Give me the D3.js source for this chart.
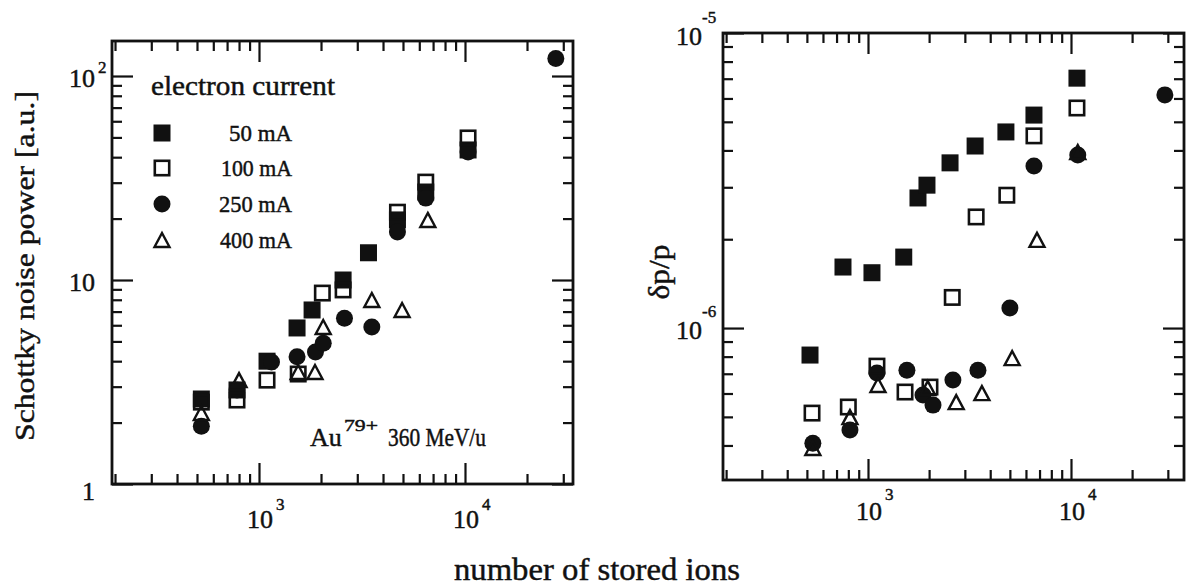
<!DOCTYPE html>
<html>
<head>
<meta charset="utf-8">
<script src="https://cdn.jsdelivr.net/npm/d3@7"></script>
<style>
  body { margin: 0; background: #fff; }
  text { font-family: "Liberation Serif", "DejaVu Serif", serif; fill: #111; stroke: #111; stroke-width: 0.45px; }
</style>
</head>
<body>
<svg id="chart" width="1192" height="587"></svg>
<script>
// ---- data -------------------------------------------------------------
const seriesNames = ["50 mA", "100 mA", "250 mA", "400 mA"];
const seriesSymbols = ["squareFilled", "squareOpen", "circleFilled", "triangleOpen"];

// Schottky noise power [a.u.] versus number of stored ions
const noiseIons50  = [525, 782, 1094, 1530, 1810, 2560, 3400, 4700, 6450, 10350];
const noise50      = [2.61, 2.89, 4.0, 5.82, 7.13, 10.0, 13.6, 19.7, 27.0, 43.4];
const noiseIons100 = [525, 782, 1094, 1550, 2030, 2560, 4700, 6450, 10350];
const noise100     = [2.52, 2.58, 3.23, 3.46, 8.63, 8.94, 21.5, 30.2, 49.7];
const noiseIons250 = [525, 782, 1150, 1530, 1880, 2050, 2600, 3530, 4700, 6450, 10350, 27600];
const noise250     = [1.92, 2.89, 3.96, 4.2, 4.44, 4.9, 6.5, 5.88, 17.2, 25.2, 42.4, 122];
const noiseIons400 = [525, 800, 1550, 1870, 2050, 3530, 4950, 6600];
const noise400     = [2.23, 3.23, 3.54, 3.54, 5.88, 7.98, 7.13, 19.7];

// momentum spread dp/p versus number of stored ions
const dppIons50  = [518, 753, 1046, 1500, 1763, 1952, 2536, 3370, 4780, 6570, 10700];
const dpp50      = [8.1e-7, 1.61e-6, 1.54e-6, 1.74e-6, 2.76e-6, 3.05e-6, 3.63e-6, 4.14e-6, 4.62e-6, 5.27e-6, 7.03e-6];
const dppIons100 = [530, 800, 1107, 1522, 2020, 2600, 3410, 4830, 6570, 10700];
const dpp100     = [5.15e-7, 5.4e-7, 7.43e-7, 6.07e-7, 6.31e-7, 1.27e-6, 2.38e-6, 2.82e-6, 4.48e-6, 5.57e-6];
const dppIons250 = [535, 815, 1107, 1555, 1866, 2090, 2620, 3480, 5000, 6570, 10800, 29000];
const dpp250     = [4.07e-7, 4.51e-7, 7.04e-7, 7.2e-7, 5.93e-7, 5.48e-7, 6.67e-7, 7.2e-7, 1.17e-6, 3.54e-6, 3.86e-6, 6.17e-6];
const dppIons400 = [535, 815, 1120, 1970, 2720, 3640, 5130, 6800, 10800];
const dpp400     = [3.92e-7, 4.99e-7, 6.41e-7, 6.26e-7, 5.61e-7, 6.02e-7, 7.91e-7, 1.99e-6, 3.95e-6];

// axis extents and labelled decades
const ionsExtentLeft  = [Math.pow(10, 2.2864), Math.pow(10, 4.5243)];
const ionsExtentRight = [Math.pow(10, 2.2857), Math.pow(10, 4.5567)];
const noiseExtent = [1, Math.pow(10, 2.1716)];
const dppExtent   = [Math.pow(10, -6.515), 1e-5];
const ionsTickExps  = [3, 4];
const noiseTickLabels = [
  { v: 1, base: "1", exp: "", dy: 16 },
  { v: 10, base: "10", exp: "", dy: 11 },
  { v: 100, base: "10", exp: "2", dy: 11 }
];
const dppTickLabels = [
  { v: 1e-6, base: "10", exp: "-6", dy: 11 },
  { v: 1e-5, base: "10", exp: "-5", dy: 12 }
];

// ---- drawing ------------------------------------------------------------
const svg = d3.select("#chart");
const INK = "#111";

function decadeTicks(dom) {
  const major = [], minor = [];
  const lo = Math.floor(Math.log10(dom[0])), hi = Math.ceil(Math.log10(dom[1]));
  for (let e = lo; e <= hi; e++) {
    for (let k = 1; k < 10; k++) {
      const v = k * Math.pow(10, e);
      if (v >= dom[0] * 0.999 && v <= dom[1] * 1.001) (k === 1 ? major : minor).push(v);
    }
  }
  return { major, minor };
}

function drawSymbol(g, kind, cx, cy) {
  const s = 17;
  if (kind === "squareFilled") {
    g.append("rect").attr("x", cx - s / 2).attr("y", cy - s / 2).attr("width", s).attr("height", s).attr("fill", INK);
  } else if (kind === "squareOpen") {
    g.append("rect").attr("x", cx - s / 2 + 1.3).attr("y", cy - s / 2 + 1.3).attr("width", s - 2.6).attr("height", s - 2.6)
      .attr("fill", "none").attr("stroke", INK).attr("stroke-width", 2.6);
  } else if (kind === "circleFilled") {
    g.append("circle").attr("cx", cx).attr("cy", cy).attr("r", 8.5).attr("fill", INK);
  } else {
    const h = 14, w = 15;
    g.append("path")
      .attr("d", `M${cx},${cy - h / 2} L${cx + w / 2},${cy + h / 2} L${cx - w / 2},${cy + h / 2} Z`)
      .attr("fill", "none").attr("stroke", INK).attr("stroke-width", 2.4).attr("stroke-linejoin", "miter");
  }
}

function drawPanel(cfg) {
  const x = d3.scaleLog().domain(cfg.xDomain).range([cfg.left, cfg.right]);
  const y = d3.scaleLog().domain(cfg.yDomain).range([cfg.bottom, cfg.top]);
  const g = svg.append("g");

  const xt = decadeTicks(cfg.xDomain), yt = decadeTicks(cfg.yDomain);
  const axes = [
    { a: d3.axisBottom(x), t: `translate(0,${cfg.bottom})`, ticks: xt },
    { a: d3.axisTop(x),    t: `translate(0,${cfg.top})`,    ticks: xt },
    { a: d3.axisLeft(y),   t: `translate(${cfg.left},0)`,   ticks: yt },
    { a: d3.axisRight(y),  t: `translate(${cfg.right},0)`,  ticks: yt }
  ];
  axes.forEach(ax => {
    [["minor", -10], ["major", -21]].forEach(([kind, len]) => {
      const sel = g.append("g").attr("transform", ax.t)
        .call(ax.a.tickValues(ax.ticks[kind]).tickSize(len).tickFormat(""));
      sel.select(".domain").remove();
      sel.selectAll(".tick line").attr("stroke", INK).attr("stroke-width", 2.2);
    });
  });

  g.append("rect")
    .attr("x", cfg.left).attr("y", cfg.top)
    .attr("width", cfg.right - cfg.left).attr("height", cfg.bottom - cfg.top)
    .attr("fill", "none").attr("stroke", INK).attr("stroke-width", 2.8);

  // x tick labels (10^3, 10^4)
  ionsTickExps.forEach(e => {
    const px = x(Math.pow(10, e));
    g.append("text").attr("x", px + 1).attr("y", cfg.xLabelBase).attr("text-anchor", "middle")
      .attr("font-size", 26).text("10");
    g.append("text").attr("x", px + 17).attr("y", cfg.xLabelBase - cfg.xExpRise)
      .attr("font-size", 17).text(String(e));
  });

  // y tick labels
  cfg.yLabels.forEach(d => {
    const py = y(d.v);
    const right = cfg.left - cfg.yLabelGap;
    g.append("text").attr("x", right).attr("y", py + d.dy)
      .attr("text-anchor", "end").attr("font-size", 26).text(d.base);
    if (d.exp) {
      g.append("text").attr("x", right + cfg.yExpShift).attr("y", py + d.dy - cfg.yExpRise)
        .attr("font-size", 17).text(d.exp);
    }
  });

  // markers: filled first, outlined ones on top
  const order = [0, 2, 1, 3];
  order.forEach(i => {
    const xs = cfg.series[i][0], ys = cfg.series[i][1];
    xs.forEach((xv, j) => drawSymbol(g, seriesSymbols[i], x(xv), y(ys[j])));
  });
  return { x, y, g };
}

drawPanel({
  left: 112, right: 573, top: 41, bottom: 484,
  xDomain: ionsExtentLeft, yDomain: noiseExtent,
  xLabelBase: 528, xExpRise: 18,
  yLabels: noiseTickLabels, yLabelGap: 17, yExpShift: 3, yExpRise: 14,
  series: [[noiseIons50, noise50], [noiseIons100, noise100], [noiseIons250, noise250], [noiseIons400, noise400]]
});

drawPanel({
  left: 723, right: 1184, top: 33, bottom: 480,
  xDomain: ionsExtentRight, yDomain: dppExtent,
  xLabelBase: 520, xExpRise: 20,
  yLabels: dppTickLabels, yLabelGap: 21, yExpShift: 0, yExpRise: 22,
  series: [[dppIons50, dpp50], [dppIons100, dpp100], [dppIons250, dpp250], [dppIons400, dpp400]]
});

// legend inside the left panel
const lg = svg.append("g");
lg.append("text").attr("x", 151).attr("y", 95).attr("font-size", 27)
  .attr("textLength", 184).attr("lengthAdjust", "spacingAndGlyphs")
  .text("electron current");
const legendRows = [133, 168, 204, 240];
const legendLabelWidths = [63, 71, 73, 72];
seriesNames.forEach((name, i) => {
  drawSymbol(lg, seriesSymbols[i], 162, legendRows[i]);
  lg.append("text").attr("x", 292 - legendLabelWidths[i]).attr("y", legendRows[i] + 8)
    .attr("font-size", 23).attr("textLength", legendLabelWidths[i]).attr("lengthAdjust", "spacingAndGlyphs")
    .text(name);
});

// beam annotation
svg.append("text").attr("x", 310).attr("y", 446).attr("font-size", 26).text("Au");
svg.append("text").attr("x", 344).attr("y", 431).attr("font-size", 17)
  .attr("textLength", 34).attr("lengthAdjust", "spacingAndGlyphs").text("79+");
svg.append("text").attr("x", 388).attr("y", 446).attr("font-size", 25)
  .attr("textLength", 98).attr("lengthAdjust", "spacingAndGlyphs").text("360 MeV/u");

// axis titles
svg.append("text").attr("transform", "translate(34,266) rotate(-90)").attr("text-anchor", "middle")
  .attr("font-size", 28).attr("textLength", 350).attr("lengthAdjust", "spacingAndGlyphs")
  .text("Schottky noise power [a.u.]");
svg.append("text").attr("transform", "translate(669,272) rotate(-90)").attr("text-anchor", "middle")
  .attr("font-size", 30).attr("textLength", 55).attr("lengthAdjust", "spacingAndGlyphs").text("δp/p");
svg.append("text").attr("x", 597).attr("y", 580).attr("text-anchor", "middle")
  .attr("font-size", 32).attr("textLength", 286).attr("lengthAdjust", "spacingAndGlyphs")
  .text("number of stored ions");
</script>
</body>
</html>
